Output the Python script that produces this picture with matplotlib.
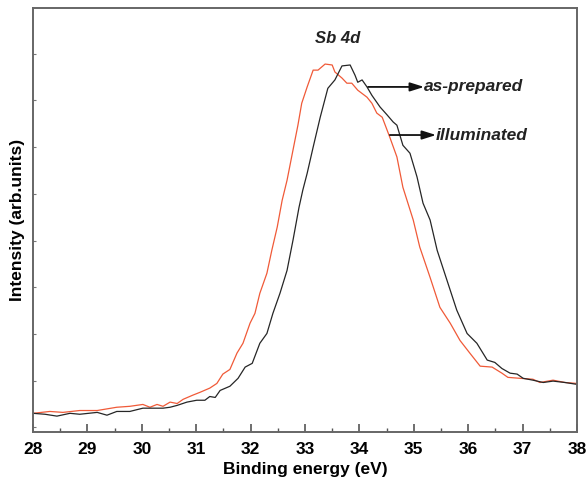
import numpy as np
import matplotlib.pyplot as plt

plt.rcParams['font.family'] = ['Liberation Sans', 'DejaVu Sans']

# Sb 4d spectrum, as-prepared sample (black)
be_prep = [28.00, 28.22, 28.44, 28.68, 28.86, 29.18, 29.36, 29.54, 29.78, 30.02,
           30.39, 30.52, 30.65, 30.83, 31.01, 31.16, 31.25, 31.35, 31.44, 31.62,
           31.77, 31.90, 32.03, 32.17, 32.30, 32.41, 32.54, 32.67, 32.78, 32.89,
           32.96, 33.04, 33.15, 33.28, 33.42, 33.55, 33.68, 33.83, 33.92, 33.97,
           34.05, 34.14, 34.23, 34.38, 34.51, 34.62, 34.69, 34.80, 34.93, 35.06,
           35.17, 35.30, 35.43, 35.61, 35.79, 35.98, 36.16, 36.35, 36.49, 36.62,
           36.77, 36.90, 37.01, 37.19, 37.38, 37.56, 37.78, 38.00]
int_prep = [0.30, 0.28, 0.24, 0.30, 0.28, 0.32, 0.26, 0.34, 0.34, 0.41,
            0.41, 0.43, 0.47, 0.54, 0.58, 0.58, 0.66, 0.64, 0.79, 0.88,
            1.05, 1.29, 1.37, 1.80, 2.01, 2.44, 2.87, 3.36, 4.01, 4.71,
            5.08, 5.44, 6.00, 6.64, 7.26, 7.44, 7.74, 7.76, 7.54, 7.39,
            7.44, 7.29, 7.11, 6.86, 6.69, 6.54, 6.47, 6.04, 5.87, 5.36,
            4.80, 4.44, 3.79, 3.15, 2.51, 2.01, 1.80, 1.44, 1.39, 1.26,
            1.16, 1.14, 1.05, 1.01, 0.96, 0.99, 0.96, 0.92]

# Sb 4d spectrum, illuminated sample (red)
be_ill = [28.00, 28.31, 28.55, 28.86, 29.18, 29.54, 29.78, 30.02, 30.15, 30.28,
          30.39, 30.52, 30.65, 30.76, 30.94, 31.07, 31.25, 31.38, 31.49, 31.62,
          31.75, 31.86, 31.99, 32.08, 32.17, 32.30, 32.39, 32.49, 32.58, 32.67,
          32.78, 32.87, 32.94, 33.04, 33.15, 33.24, 33.37, 33.50, 33.55, 33.68,
          33.77, 33.86, 33.97, 34.14, 34.23, 34.32, 34.42, 34.56, 34.69, 34.80,
          34.99, 35.11, 35.30, 35.48, 35.67, 35.85, 36.03, 36.22, 36.44, 36.62,
          36.73, 36.95, 37.19, 37.32, 37.56, 37.78, 38.00]
int_ill = [0.30, 0.34, 0.32, 0.36, 0.36, 0.43, 0.45, 0.49, 0.43, 0.49,
           0.45, 0.54, 0.51, 0.60, 0.69, 0.75, 0.84, 0.94, 1.14, 1.24,
           1.59, 1.80, 2.23, 2.44, 2.87, 3.30, 3.79, 4.29, 4.86, 5.29,
           5.94, 6.47, 6.94, 7.29, 7.65, 7.65, 7.78, 7.76, 7.61, 7.48,
           7.37, 7.37, 7.22, 7.07, 6.94, 6.73, 6.64, 6.21, 5.79, 5.14,
           4.44, 3.86, 3.21, 2.57, 2.23, 1.86, 1.59, 1.31, 1.29, 1.16,
           1.07, 1.05, 1.03, 0.96, 1.01, 0.96, 0.94]

fig = plt.figure(figsize=(5.86, 4.83), dpi=100)
ax = fig.add_axes([0.0563, 0.1056, 0.9283, 0.8778])

ax.plot(be_ill, int_ill, color='#F05A38', lw=0.9)
ax.plot(be_prep, int_prep, color='#262626', lw=0.9)

ax.set_xlim(28, 38)
ax.set_ylim(-0.1, 8.98)
ax.set_xticks(np.arange(28, 39, 1))
ax.set_xticks(np.arange(28.5, 38, 1), minor=True)
ax.set_yticks(np.arange(0, 9, 1))
ax.set_yticklabels([])
ax.tick_params(axis='x', which='major', direction='in', length=6, width=1.2,
               color='#555555', labelsize=12.5, pad=7)
ax.tick_params(axis='x', which='minor', direction='in', length=3, width=1.0,
               color='#555555')
ax.tick_params(axis='y', direction='in', length=2.5, width=0.8, color='#777777')
for lbl in ax.get_xticklabels():
    lbl.set_fontweight('bold')
for sp in ax.spines.values():
    sp.set_color('#666666')
    sp.set_linewidth(1.4)

ax.set_xlabel('Binding energy (eV)', fontsize=12.5, fontweight='bold', labelpad=4)
ax.set_ylabel('Intensity (arb.units)', fontsize=12.5, fontweight='bold', labelpad=2)

ax.text(33.6, 8.33, 'Sb 4d', fontsize=12, fontweight='bold', style='italic',
        ha='center', va='center', color='#222222')

arrow = dict(arrowstyle='-|>,head_length=0.7,head_width=0.22', color='#111111',
             lw=1.3, mutation_scale=12, shrinkA=0, shrinkB=0)
ax.annotate('', xy=(35.19, 7.29), xytext=(34.16, 7.29), arrowprops=arrow)
ax.text(35.19, 7.29, 'as-prepared', fontsize=12.5, fontweight='bold', style='italic',
        ha='left', va='center', color='#222222')
ax.annotate('', xy=(35.41, 6.26), xytext=(34.56, 6.26), arrowprops=arrow)
ax.text(35.41, 6.26, 'illuminated', fontsize=12.5, fontweight='bold', style='italic',
        ha='left', va='center', color='#222222')

fig.savefig('out.png', dpi=100)
